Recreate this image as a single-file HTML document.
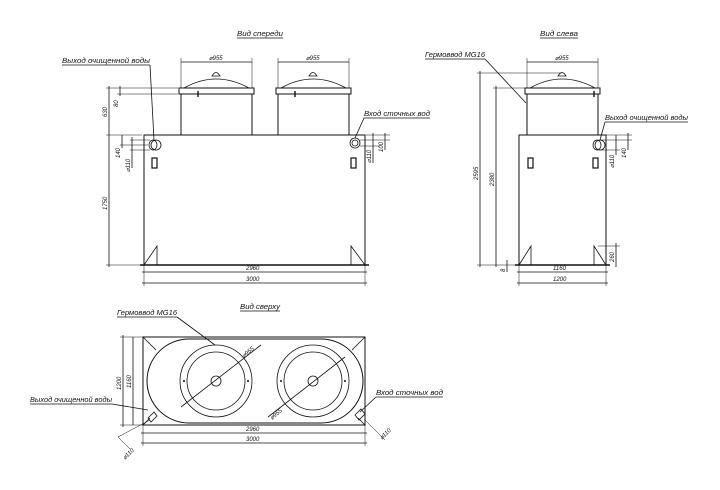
<!DOCTYPE html>
<html><head><meta charset="utf-8"><style>
html,body{margin:0;padding:0;background:#fff}
svg{display:block}
text{font-family:"Liberation Sans",sans-serif;font-style:italic;fill:#111}
</style></head><body>
<svg width="720" height="490" viewBox="0 0 720 490" xmlns="http://www.w3.org/2000/svg">
<g stroke="#111" fill="none" stroke-width="0.8">
<!-- FRONT VIEW -->
<rect x="144" y="135" width="221" height="130" stroke-width="1"/>
<line x1="140" y1="265" x2="369" y2="265" stroke-width="1.4"/>
<path d="M144 265 L157 246 L157 265 M365 265 L351 246 L351 265"/>
<rect x="181" y="94" width="71" height="41" stroke-width="1"/>
<rect x="179" y="88" width="75" height="6" stroke-width="1"/>
<path d="M184 88 Q216 70 249 88"/>
<path d="M212 76 Q216 69 220 76 Z"/>
<rect x="278" y="94" width="71" height="41" stroke-width="1"/>
<rect x="276" y="88" width="75" height="6" stroke-width="1"/>
<path d="M281 88 Q313 70 346 88"/>
<path d="M309 76 Q313 69 317 76 Z"/>
<line x1="198" y1="91" x2="198" y2="97" stroke-width="1.4"/>
<line x1="295" y1="91" x2="295" y2="97" stroke-width="1.4"/>
<ellipse cx="156" cy="145" rx="5" ry="5"/><ellipse cx="153" cy="145" rx="4" ry="5"/>
<circle cx="355" cy="143" r="5"/><circle cx="355" cy="143" r="3"/>
<rect x="152" y="158" width="5" height="10" stroke-width="1.2"/><rect x="351" y="158" width="5" height="10" stroke-width="1.2"/>
<line x1="181" y1="62" x2="252" y2="62"/><line x1="181" y1="58" x2="181" y2="88" stroke-width="0.5"/><line x1="252" y1="58" x2="252" y2="88" stroke-width="0.5"/>
<line x1="278" y1="62" x2="349" y2="62"/><line x1="278" y1="58" x2="278" y2="88" stroke-width="0.5"/><line x1="349" y1="58" x2="349" y2="88" stroke-width="0.5"/>
<line x1="109" y1="86" x2="109" y2="267"/>
<line x1="106" y1="88" x2="178" y2="88" stroke-width="0.5"/>
<line x1="106" y1="135" x2="142" y2="135" stroke-width="0.5"/>
<line x1="106" y1="265" x2="142" y2="265" stroke-width="0.5"/>
<line x1="120" y1="86" x2="120" y2="96"/><line x1="117" y1="94" x2="178" y2="94" stroke-width="0.5"/>
<line x1="122" y1="135" x2="122" y2="148"/><line x1="132" y1="137" x2="132" y2="168"/>
<line x1="120" y1="145" x2="148" y2="145" stroke-width="0.5"/><line x1="130" y1="140" x2="150" y2="140" stroke-width="0.5"/><line x1="130" y1="150" x2="150" y2="150" stroke-width="0.5"/>
<line x1="373" y1="133" x2="373" y2="163"/><line x1="385" y1="133" x2="385" y2="150"/>
<line x1="360" y1="140" x2="390" y2="140" stroke-width="0.5"/><line x1="360" y1="146" x2="380" y2="146" stroke-width="0.5"/><line x1="366" y1="135" x2="390" y2="135" stroke-width="0.5"/>
<line x1="142" y1="272" x2="367" y2="272"/><line x1="142" y1="283" x2="367" y2="283"/>
<line x1="144" y1="265" x2="144" y2="286" stroke-width="0.5"/><line x1="365" y1="265" x2="365" y2="286" stroke-width="0.5"/>
<line x1="62" y1="65" x2="150" y2="65"/><line x1="150" y1="65" x2="154" y2="140"/>
<line x1="364" y1="118" x2="430" y2="118"/><line x1="364" y1="118" x2="355" y2="138"/>
<line x1="237" y1="38" x2="283" y2="38"/>

<!-- SIDE VIEW -->
<rect x="519" y="135" width="87" height="130" stroke-width="1"/>
<line x1="515" y1="265" x2="610" y2="265" stroke-width="1.4"/>
<path d="M519 265 L531 246 L531 265 M606 265 L594 246 L594 265"/>
<rect x="527" y="94" width="71" height="41" stroke-width="1"/>
<rect x="525" y="88" width="75" height="6" stroke-width="1"/>
<path d="M530 88 Q562 70 595 88"/>
<path d="M558 76 Q562 69 566 76 Z"/>
<line x1="594" y1="91" x2="594" y2="97" stroke-width="1.4"/>
<ellipse cx="600" cy="145" rx="5" ry="5"/><ellipse cx="597" cy="145" rx="4" ry="5"/>
<rect x="528" y="158" width="5" height="10" stroke-width="1.2"/><rect x="593" y="158" width="5" height="10" stroke-width="1.2"/>
<line x1="527" y1="62" x2="598" y2="62"/><line x1="527" y1="58" x2="527" y2="88" stroke-width="0.5"/><line x1="598" y1="58" x2="598" y2="88" stroke-width="0.5"/>
<line x1="480" y1="71" x2="480" y2="267"/><line x1="477" y1="73" x2="562" y2="73" stroke-width="0.5"/>
<line x1="496" y1="86" x2="496" y2="267"/><line x1="493" y1="88" x2="525" y2="88" stroke-width="0.5"/>
<line x1="477" y1="265" x2="515" y2="265" stroke-width="0.5"/>
<line x1="507" y1="260" x2="507" y2="272"/>
<line x1="616" y1="243" x2="616" y2="267"/><line x1="598" y1="246" x2="620" y2="246" stroke-width="0.5"/>
<line x1="616" y1="135" x2="616" y2="155"/><line x1="628" y1="133" x2="628" y2="150"/>
<line x1="600" y1="140" x2="632" y2="140" stroke-width="0.5"/><line x1="600" y1="150" x2="620" y2="150" stroke-width="0.5"/><line x1="606" y1="135" x2="632" y2="135" stroke-width="0.5"/>
<line x1="517" y1="272" x2="608" y2="272"/><line x1="517" y1="283" x2="608" y2="283"/>
<line x1="519" y1="265" x2="519" y2="286" stroke-width="0.5"/><line x1="606" y1="265" x2="606" y2="286" stroke-width="0.5"/>
<line x1="425" y1="59" x2="485" y2="59"/><line x1="485" y1="59" x2="526" y2="103"/>
<line x1="605" y1="122" x2="688" y2="122"/><line x1="605" y1="122" x2="600" y2="140"/>
<line x1="540" y1="38" x2="578" y2="38"/>

<!-- TOP VIEW -->
<rect x="143" y="337" width="222" height="88" stroke-width="1"/>
<rect x="147" y="339" width="216" height="84" rx="42" ry="42" stroke-width="1"/>
<path d="M143 337 L156 350 M365 337 L352 350 M143 425 L150 418 M365 425 L358 418"/>
<circle cx="216" cy="381" r="36"/><circle cx="216" cy="381" r="29"/><circle cx="216" cy="381" r="5"/>
<circle cx="313" cy="381" r="36"/><circle cx="313" cy="381" r="29"/><circle cx="313" cy="381" r="5"/>
<line x1="181" y1="407" x2="261" y2="345"/>
<line x1="268" y1="417" x2="345" y2="357"/>
<path d="M148 418 L154 412 L157 416 L151 422 Z M355 415 L361 409 L365 414 L359 420 Z"/>
<line x1="123" y1="335" x2="123" y2="427"/><line x1="133" y1="337" x2="133" y2="425"/>
<line x1="120" y1="337" x2="143" y2="337" stroke-width="0.5"/><line x1="120" y1="425" x2="143" y2="425" stroke-width="0.5"/>
<line x1="141" y1="433" x2="367" y2="433"/><line x1="141" y1="443" x2="367" y2="443"/>
<line x1="143" y1="425" x2="143" y2="446" stroke-width="0.5"/><line x1="365" y1="425" x2="365" y2="446" stroke-width="0.5"/>
<line x1="118" y1="437" x2="150" y2="420" stroke-width="0.5"/><line x1="118" y1="437" x2="130" y2="449" stroke-width="0.5"/>
<line x1="365" y1="420" x2="385" y2="440" stroke-width="0.5"/>
<line x1="117" y1="317" x2="177" y2="317"/><line x1="177" y1="317" x2="215" y2="345"/>
<line x1="30" y1="404" x2="112" y2="404"/><line x1="112" y1="404" x2="148" y2="410"/>
<line x1="376" y1="397" x2="443" y2="397"/><line x1="376" y1="397" x2="360" y2="412"/>
<line x1="240" y1="311" x2="280" y2="311"/>
</g>
<g fill="#111">
<circle cx="184" cy="381" r="1"/><circle cx="248" cy="381" r="1"/>
<circle cx="281" cy="381" r="1"/><circle cx="345" cy="381" r="1"/>
</g>
<g font-size="7.5">
<text x="237" y="36" textLength="46" lengthAdjust="spacingAndGlyphs">Вид спереди</text>
<text x="62" y="63" textLength="88" lengthAdjust="spacingAndGlyphs">Выход очищенной воды</text>
<text x="364" y="116" textLength="66" lengthAdjust="spacingAndGlyphs">Вход сточных вод</text>
<text x="540" y="36" textLength="38" lengthAdjust="spacingAndGlyphs">Вид слева</text>
<text x="425" y="57" textLength="60" lengthAdjust="spacingAndGlyphs">Гермоввод MG16</text>
<text x="605" y="120" textLength="83" lengthAdjust="spacingAndGlyphs">Выход очищенной воды</text>
<text x="240" y="309" textLength="40" lengthAdjust="spacingAndGlyphs">Вид сверху</text>
<text x="117" y="315" textLength="60" lengthAdjust="spacingAndGlyphs">Гермоввод MG16</text>
<text x="30" y="402" textLength="82" lengthAdjust="spacingAndGlyphs">Выход очищенной воды</text>
<text x="376" y="395" textLength="67" lengthAdjust="spacingAndGlyphs">Вход сточных вод</text>
</g>
<g font-size="6">
<text x="209" y="60">⌀955</text><text x="306" y="60">⌀955</text><text x="555" y="60">⌀955</text>
<text x="246" y="270">2960</text><text x="246" y="281">3000</text>
<text x="553" y="270">1160</text><text x="553" y="281">1200</text>
<text x="246" y="431">2960</text><text x="246" y="441">3000</text>
<text transform="translate(107,117) rotate(-90)">630</text>
<text transform="translate(107,210) rotate(-90)">1750</text>
<text transform="translate(118,107) rotate(-90)">80</text>
<text transform="translate(120,158) rotate(-90)">140</text>
<text transform="translate(130,172) rotate(-90)">⌀110</text>
<text transform="translate(371,163) rotate(-90)">⌀110</text>
<text transform="translate(383,152) rotate(-90)">100</text>
<text transform="translate(478,180) rotate(-90)">2595</text>
<text transform="translate(494,186) rotate(-90)">2380</text>
<text transform="translate(505,272) rotate(-90)">8</text>
<text transform="translate(614,262) rotate(-90)">260</text>
<text transform="translate(626,158) rotate(-90)">140</text>
<text transform="translate(614,168) rotate(-90)">⌀110</text>
<text transform="translate(121,390) rotate(-90)">1200</text>
<text transform="translate(131,388) rotate(-90)">1160</text>
<text transform="translate(244,358) rotate(-40)">⌀955</text>
<text transform="translate(272,420) rotate(-40)">⌀955</text>
<text transform="translate(125,460) rotate(-45)">⌀110</text>
<text transform="translate(382,440) rotate(-45)">⌀110</text>
</g>
</svg>
</body></html>
